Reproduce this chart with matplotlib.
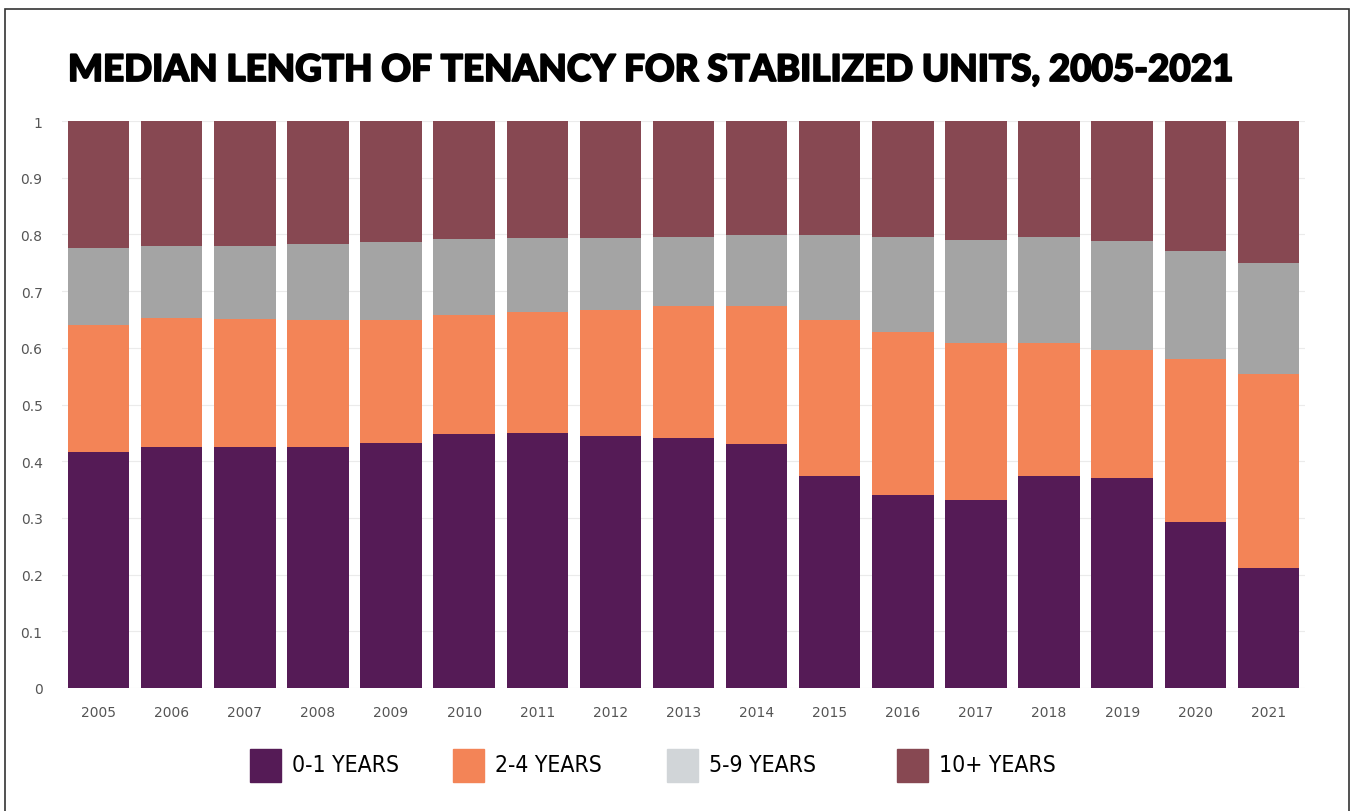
import numpy as np
import matplotlib
matplotlib.use("Agg")
import matplotlib.pyplot as plt
import matplotlib.patheffects as pe
from matplotlib.patches import Rectangle

years = [str(y) for y in range(2005, 2022)]
# shares of stabilized units by length of tenancy
yrs_0_1 = [0.416, 0.425, 0.425, 0.425, 0.432, 0.448, 0.450, 0.444, 0.441,
           0.430, 0.374, 0.341, 0.332, 0.374, 0.370, 0.293, 0.212]
yrs_2_4 = [0.224, 0.228, 0.226, 0.224, 0.217, 0.210, 0.213, 0.223, 0.233,
           0.244, 0.275, 0.286, 0.277, 0.235, 0.227, 0.287, 0.342]
yrs_5_9 = [0.136, 0.127, 0.129, 0.134, 0.138, 0.134, 0.131, 0.127, 0.121,
           0.125, 0.150, 0.169, 0.181, 0.187, 0.191, 0.191, 0.195]
yrs_10_plus = [1 - a - b - c for a, b, c in zip(yrs_0_1, yrs_2_4, yrs_5_9)]

series = [yrs_0_1, yrs_2_4, yrs_5_9, yrs_10_plus]
labels = ["0-1 YEARS", "2-4 YEARS", "5-9 YEARS", "10+ YEARS"]
bar_colors = ["#551b56", "#f38457", "#a4a4a4", "#874852"]
key_colors = ["#551b56", "#f38457", "#d1d5d8", "#874852"]

W, H = 1351, 812
fig = plt.figure(figsize=(W / 100, H / 100), dpi=100)
ax = fig.add_axes([62 / W, 1 - 689 / H, (1305 - 62) / W, (689 - 122) / H])

x = np.arange(len(years))
bottom = np.zeros(len(years))
for vals, col in zip(series, bar_colors):
    ax.bar(x, vals, bottom=bottom, width=0.84, color=col, zorder=2)
    bottom += np.array(vals)

ax.set_xlim(-0.5, len(years) - 0.5)
ax.set_ylim(0, 1)
ticks = np.round(np.arange(0, 1.01, 0.1), 1)
ax.set_yticks(ticks)
ax.set_yticklabels([f"{t:g}" for t in ticks])
ax.set_xticks(x)
ax.set_xticklabels(years)
ax.tick_params(axis="both", length=0, labelsize=10, colors="#555555")
ax.tick_params(axis="y", pad=14)
ax.tick_params(axis="x", pad=12)
ax.grid(axis="y", color="#ebebeb", lw=0.8, zorder=0)
for s in ax.spines.values():
    s.set_visible(False)

fig.text(68 / W, 1 - 82 / H, "MEDIAN LENGTH OF TENANCY FOR STABILIZED UNITS, 2005-2021",
         fontsize=26.5, fontweight="black", family=["Lato", "DejaVu Sans"],
         va="baseline", ha="left", color="black",
         path_effects=[pe.withStroke(linewidth=1.3, foreground="black")])

# legend row
key_x = [250, 453, 667, 897]
for kx, lab, col in zip(key_x, labels, key_colors):
    fig.patches.append(Rectangle((kx / W, 1 - 783 / H), 31 / W, 33 / H,
                                 transform=fig.transFigure, color=col))
    fig.text((kx + 42) / W, 1 - 772 / H, lab, fontsize=16.5, va="baseline",
             family=["Liberation Sans Narrow", "DejaVu Sans"], stretch="condensed")

# frame around the graphic (open at the bottom, cropped in the source)
fig.patches.append(Rectangle((5 / W, -0.05), (1349 - 5) / W, 1.05 - 10 / H,
                             transform=fig.transFigure, fill=False, ec="#333333", lw=1.2))

fig.savefig("out.png", dpi=100)
